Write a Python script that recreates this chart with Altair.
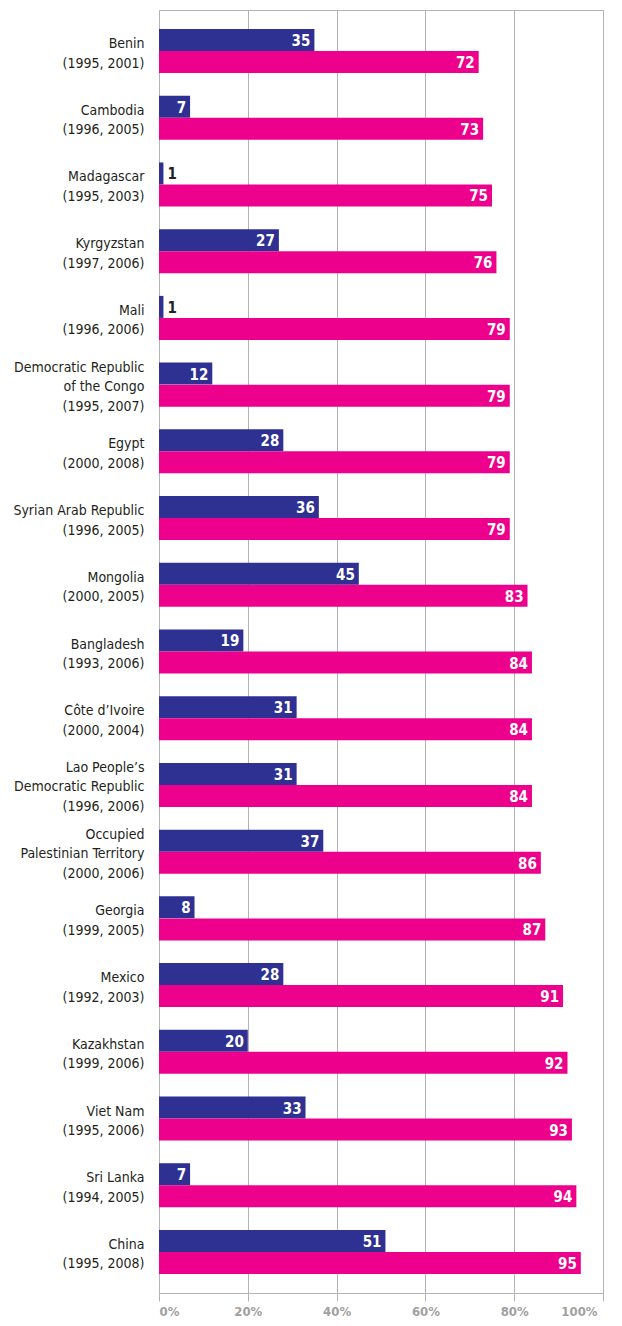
import altair as alt
import pandas as pd

countries = [
    "Benin|(1995, 2001)",
    "Cambodia|(1996, 2005)",
    "Madagascar|(1995, 2003)",
    "Kyrgyzstan|(1997, 2006)",
    "Mali|(1996, 2006)",
    "Democratic Republic|of the Congo|(1995, 2007)",
    "Egypt|(2000, 2008)",
    "Syrian Arab Republic|(1996, 2005)",
    "Mongolia|(2000, 2005)",
    "Bangladesh|(1993, 2006)",
    "Côte d’Ivoire|(2000, 2004)",
    "Lao People’s|Democratic Republic|(1996, 2006)",
    "Occupied|Palestinian Territory|(2000, 2006)",
    "Georgia|(1999, 2005)",
    "Mexico|(1992, 2003)",
    "Kazakhstan|(1999, 2006)",
    "Viet Nam|(1995, 2006)",
    "Sri Lanka|(1994, 2005)",
    "China|(1995, 2008)",
]
earlier = [35, 7, 1, 27, 1, 12, 28, 36, 45, 19, 31, 31, 37, 8, 28, 20, 33, 7, 51]
later = [72, 73, 75, 76, 79, 79, 79, 79, 83, 84, 84, 84, 86, 87, 91, 92, 93, 94, 95]
series = ["earlier", "later"]
colors = ["#2e3192", "#ec008c"]

rows = []
for c, e, l in zip(countries, earlier, later):
    rows.append({"country": c, "series": "earlier", "value": e})
    rows.append({"country": c, "series": "later", "value": l})
df = pd.DataFrame(rows)

FONT = "Liberation Sans Narrow, DejaVu Sans Condensed, Roboto Condensed, Arial Narrow, sans-serif"

y_enc = alt.Y(
    "country:N",
    sort=countries,
    scale=alt.Scale(paddingInner=0.34, paddingOuter=0.285),
    axis=alt.Axis(
        title=None,
        ticks=False,
        domain=False,
        labelExpr="split(datum.label, '|')",
        labelFont=FONT,
        labelFontSize=14,
        labelColor="#231f20",
        labelLineHeight=19.5,
        labelPadding=15,
        labelLimit=200,
        labelOffset={
            "condition": {"test": "length(split(datum.value, '|')) == 3", "value": -17},
            "value": -7,
        },
    ),
)
yoff = alt.YOffset("series:N", sort=series, scale=alt.Scale(paddingInner=0, paddingOuter=0))
x_enc = alt.X(
    "value:Q",
    scale=alt.Scale(domain=[0, 100], nice=False),
    axis=alt.Axis(
        title=None,
        values=[0, 20, 40, 60, 80, 100],
        labelExpr="datum.value + '%'",
        grid=True,
        gridColor="#b3b3b3",
        gridWidth=1,
        domain=False,
        ticks=True,
        tickSize=8,
        tickColor="#b3b3b3",
        labelFont=FONT,
        labelFontSize=13,
        labelFontWeight="bold",
        labelColor="#a0a0a0",
        labelPadding=4,
        labelOffset={"condition": {"test": "datum.value == 100", "value": -6}, "value": 0},
    ),
)

bars = alt.Chart(df).mark_bar(size=22).encode(
    y=y_enc,
    yOffset=yoff,
    x=x_enc,
    color=alt.Color("series:N", sort=series, scale=alt.Scale(domain=series, range=colors), legend=None),
)

inside = alt.Chart(df).transform_filter("datum.value >= 5").mark_text(
    align="right", baseline="middle", dx=-4, dy=1, color="white",
    font=FONT, fontSize=15, fontWeight="bold",
).encode(y=alt.Y("country:N", sort=countries), yOffset=yoff, x="value:Q", text="value:Q")

outside = alt.Chart(df).transform_filter("datum.value < 5").mark_text(
    align="left", baseline="middle", dx=4, dy=1, color="#231f20",
    font=FONT, fontSize=15, fontWeight="bold",
).encode(y=alt.Y("country:N", sort=countries), yOffset=yoff, x="value:Q", text="value:Q")

chart = alt.layer(bars, inside, outside).properties(
    width=444,
    height=1283,
    autosize=alt.AutoSizeParams(type="none"),
    padding={"left": 151, "top": 2, "right": 11, "bottom": 25},
).configure_view(stroke="#b3b3b3", strokeWidth=1)

chart.save("out.html", embed_options={"renderer": "svg", "actions": False})
